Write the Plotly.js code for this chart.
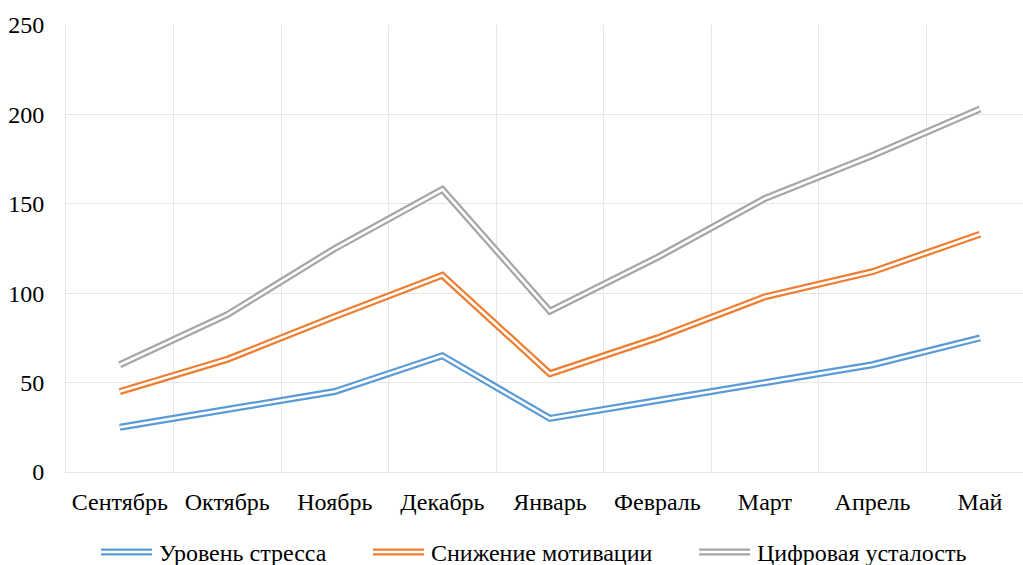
<!DOCTYPE html>
<html>
<head>
<meta charset="utf-8">
<script src="https://cdn.plot.ly/plotly-3.0.1.min.js"></script>
<style>
  html, body { margin: 0; padding: 0; background: #ffffff; }
  #chart { width: 1023px; height: 565px; }
  #chart text { font-family: 'Times New Roman', 'Liberation Serif', serif !important; }
</style>
</head>
<body>
<div id="chart"></div>
<script>
// Monthly indicators, September to May
const months = ['Сентябрь', 'Октябрь', 'Ноябрь', 'Декабрь', 'Январь', 'Февраль', 'Март', 'Апрель', 'Май'];
const stressLevel = [25, 35, 45, 65, 30, 40, 50, 60, 75];
const motivationDrop = [45, 63, 87, 110, 55, 75, 98, 112, 133];
const digitalFatigue = [60, 88, 125, 158, 90, 120, 153, 177, 203];
const seriesNames = ['Уровень стресса', 'Снижение мотивации', 'Цифровая усталость'];
const yTicks = [0, 50, 100, 150, 200, 250];

(function drawChart() {
  const palette = ['#5B9BD5', '#ED7D31', '#A5A5A5'];
  const fontFamily = 'Times New Roman';
  const fontSize = 24;
  const gridColor = '#e6e6e6';

  // Plot area geometry (pixels)
  const figW = 1023, figH = 565;
  const margin = { l: 66, r: 0, t: 25, b: 93 };
  const plotW = figW - margin.l - margin.r, plotH = figH - margin.t - margin.b;
  const toPaperX = (px) => (px - margin.l) / plotW;
  const toPaperY = (py) => (figH - margin.b - py) / plotH;

  const seriesValues = [stressLevel, motivationDrop, digitalFatigue];

  // Each series is drawn as a double line: a wide coloured stroke with a
  // narrow white stroke laid over its centre.
  const outerWidth = 7, innerWidth = 2.6;
  const traceList = [];
  seriesValues.forEach((vals, i) => {
    traceList.push({
      type: 'scatter', mode: 'lines', x: months, y: vals, name: seriesNames[i],
      line: { color: palette[i], width: outerWidth }, showlegend: false, hoverinfo: 'skip'
    });
    traceList.push({
      type: 'scatter', mode: 'lines', x: months, y: vals, name: seriesNames[i],
      line: { color: '#ffffff', width: innerWidth }, showlegend: false, hoverinfo: 'skip'
    });
  });

  // Legend row below the axis, with double-line keys
  const keyX = [101, 373, 699];
  const keyLen = 51;
  const keyY = 552;
  const keyShapes = [];
  const keyLabels = [];
  seriesNames.forEach((name, i) => {
    const x0 = toPaperX(keyX[i]), x1 = toPaperX(keyX[i] + keyLen);
    const y = toPaperY(keyY);
    keyShapes.push({ type: 'line', xref: 'paper', yref: 'paper', x0: x0, x1: x1, y0: y, y1: y,
      line: { color: palette[i], width: outerWidth } });
    keyShapes.push({ type: 'line', xref: 'paper', yref: 'paper', x0: x0, x1: x1, y0: y, y1: y,
      line: { color: '#ffffff', width: innerWidth } });
    keyLabels.push({ xref: 'paper', yref: 'paper', x: toPaperX(keyX[i] + keyLen + 5), y: toPaperY(keyY + 1),
      xanchor: 'left', yanchor: 'middle', showarrow: false, text: name,
      font: { family: fontFamily, size: fontSize, color: '#000000' } });
  });

  const chartLayout = {
    width: figW, height: figH,
    margin: margin,
    paper_bgcolor: '#ffffff', plot_bgcolor: '#ffffff',
    showlegend: false,
    xaxis: {
      type: 'category',
      range: [-0.5, 8.4],
      tickson: 'boundaries',
      showgrid: true, gridcolor: gridColor, gridwidth: 1,
      ticks: '', showline: true, linecolor: gridColor, linewidth: 1, zeroline: false,
      ticklabelstandoff: 8,
      tickfont: { family: fontFamily, size: fontSize, color: '#000000' }
    },
    yaxis: {
      range: [0, 250],
      tickvals: yTicks,
      showgrid: true, gridcolor: gridColor, gridwidth: 1,
      ticks: '', showline: true, linecolor: gridColor, linewidth: 1, zeroline: false,
      ticklabelstandoff: 16,
      tickfont: { family: fontFamily, size: fontSize, color: '#000000' }
    },
    shapes: keyShapes,
    annotations: keyLabels
  };

  Plotly.newPlot('chart', traceList, chartLayout, { staticPlot: true, displayModeBar: false });
})();
</script>
</body>
</html>
